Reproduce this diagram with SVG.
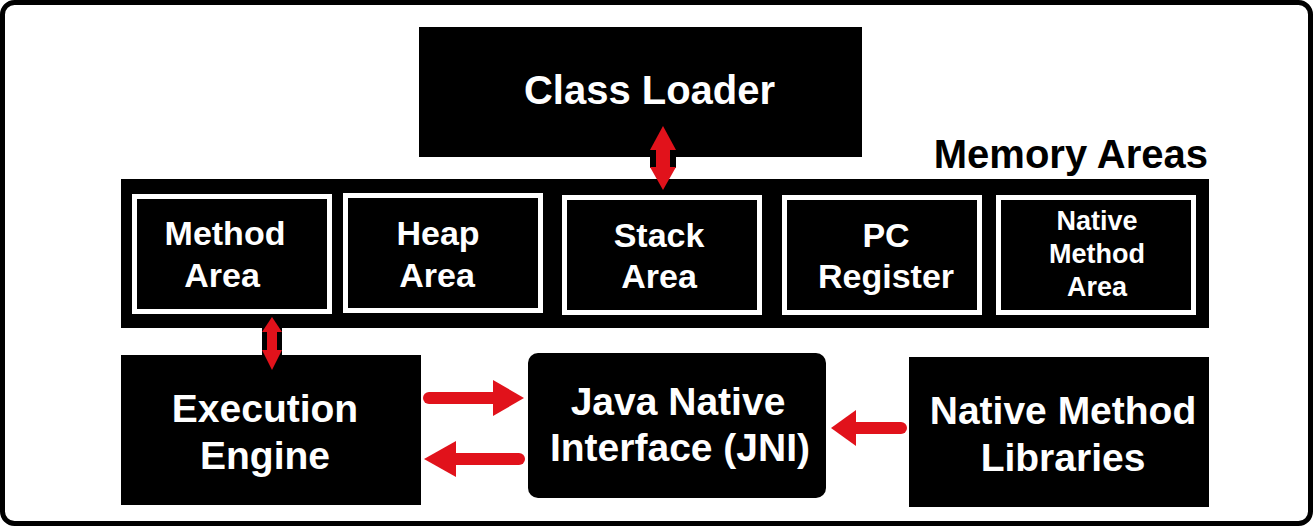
<svg xmlns="http://www.w3.org/2000/svg" width="1315" height="528" viewBox="0 0 1315 528">
<style>
.box{fill:#000}
.mem{fill:#000;stroke:#fff;stroke-width:5}
.t{font-family:"Liberation Sans",Arial,sans-serif;font-weight:bold;fill:#fff;text-anchor:middle}
.t40{font-size:40px}
.t39{font-size:39px}
.t34{font-size:34px}
.t27{font-size:27px}
.red{fill:#e1121b}
.shaft{stroke:#e1121b;stroke-width:12;stroke-linecap:round;fill:none}
</style>
<rect x="0" y="0" width="1315" height="528" fill="#fff"/>
<rect x="2.5" y="2.5" width="1308" height="521" rx="12" fill="#fff" stroke="#000" stroke-width="5"/>

<g id="class-loader">
<rect class="box" x="419" y="27" width="443" height="130"/>
<text class="t t40" x="649.5" y="104">Class Loader</text>
</g>

<g id="memory-areas">
<rect class="box" x="121" y="179" width="1088" height="149"/>
<text x="1208" y="168" font-family="'Liberation Sans',Arial,sans-serif" font-weight="bold" font-size="40" fill="#000" text-anchor="end">Memory Areas</text>
</g>

<g id="method-area">
<rect class="mem" x="134.5" y="196.5" width="195" height="115"/>
<text class="t t34" x="225" y="245">Method</text>
<text class="t t34" x="222" y="287">Area</text>
</g>

<g id="heap-area">
<rect class="mem" x="345.5" y="195.5" width="195" height="115"/>
<text class="t t34" x="438" y="245">Heap</text>
<text class="t t34" x="437" y="287">Area</text>
</g>

<g id="stack-area">
<rect class="mem" x="564.5" y="197.5" width="195" height="115"/>
<text class="t t34" x="659" y="247">Stack</text>
<text class="t t34" x="659" y="288">Area</text>
</g>

<g id="pc-register">
<rect class="mem" x="784.5" y="197.5" width="195" height="115"/>
<text class="t t34" x="886" y="247">PC</text>
<text class="t t34" x="886" y="288">Register</text>
</g>

<g id="native-method-area">
<rect class="mem" x="998.5" y="197.5" width="195" height="115"/>
<text class="t t27" x="1097" y="230">Native</text>
<text class="t t27" x="1097" y="263">Method</text>
<text class="t t27" x="1097" y="296">Area</text>
</g>

<g id="execution-engine">
<rect class="box" x="121" y="355" width="300" height="150"/>
<text class="t t39" x="265" y="422">Execution</text>
<text class="t t39" x="265" y="469">Engine</text>
</g>

<g id="jni">
<rect class="box" x="528" y="353" width="298" height="145" rx="10"/>
<text class="t t39" x="678" y="415">Java Native</text>
<text class="t t39" x="680" y="461">Interface (JNI)</text>
</g>

<g id="native-method-libraries">
<rect class="box" x="909" y="357" width="300" height="150"/>
<text class="t t39" x="1063" y="424">Native Method</text>
<text class="t t39" x="1063" y="471">Libraries</text>
</g>

<g id="connectors">
<!-- Class Loader <-> Stack Area -->
<rect class="box" x="650" y="149" width="26" height="19"/>
<rect class="red" x="656" y="148" width="14" height="21"/>
<polygon class="red" points="663,126 676,150 650,150"/>
<polygon class="red" points="650,167 676,167 663,190"/>
<!-- Method Area <-> Execution Engine -->
<rect class="box" x="262" y="328" width="20" height="27"/>
<rect class="red" x="267" y="330" width="10" height="22"/>
<polygon class="red" points="272,317 282,332 262,332"/>
<polygon class="red" points="262,350 282,350 272,370"/>
<!-- Execution Engine -> JNI -->
<line class="shaft" x1="429" y1="398" x2="496" y2="398"/>
<polygon class="red" points="493,380 524,398 493,416"/>
<!-- JNI -> Execution Engine -->
<line class="shaft" x1="519" y1="459" x2="452" y2="459"/>
<polygon class="red" points="456,441 424,459 456,477"/>
<!-- Native Method Libraries -> JNI -->
<line class="shaft" x1="901" y1="428" x2="852" y2="428"/>
<polygon class="red" points="856,410 831,428 856,446"/>
</g>
</svg>
